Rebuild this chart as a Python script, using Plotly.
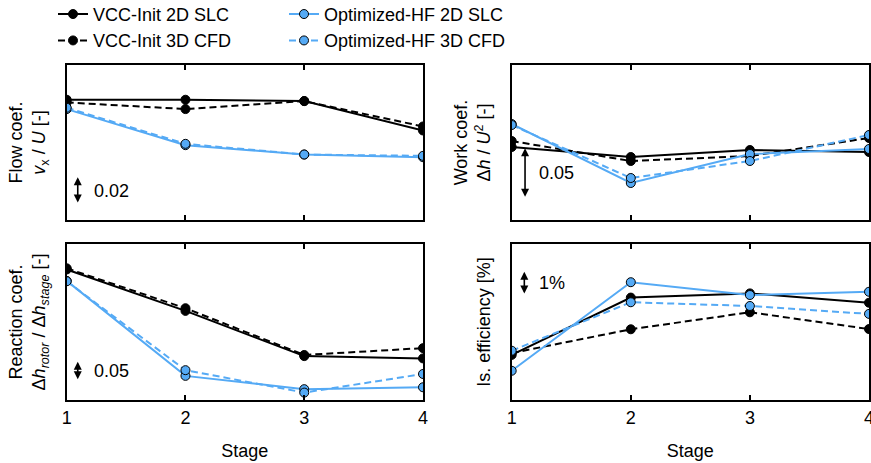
import plotly.graph_objects as go
from plotly.subplots import make_subplots

stages = [1, 2, 3, 4]
stage_ticks = ["1", "2", "3", "4"]

# Flow coefficient
flow_vcc_slc = [0.594, 0.594, 0.593, 0.571]
flow_vcc_cfd = [0.592, 0.587, 0.593, 0.574]
flow_opt_slc = [0.587, 0.560, 0.553, 0.551]
flow_opt_cfd = [0.588, 0.561, 0.553, 0.552]

# Work coefficient
work_vcc_slc = [0.418, 0.408, 0.415, 0.413]
work_vcc_cfd = [0.424, 0.404, 0.409, 0.427]
work_opt_slc = [0.441, 0.382, 0.411, 0.416]
work_opt_cfd = [0.440, 0.387, 0.404, 0.430]

# Reaction coefficient
reac_vcc_slc = [0.733, 0.624, 0.505, 0.499]
reac_vcc_cfd = [0.736, 0.631, 0.508, 0.526]
reac_opt_slc = [0.703, 0.453, 0.418, 0.423]
reac_opt_cfd = [0.702, 0.468, 0.409, 0.458]

# Isentropic efficiency [%]
eff_vcc_slc = [87.24, 89.70, 89.88, 89.48]
eff_vcc_cfd = [87.32, 88.34, 89.07, 88.35]
eff_opt_slc = [86.56, 90.36, 89.81, 89.95]
eff_opt_cfd = [87.42, 89.50, 89.34, 89.00]

series_names = ["VCC-Init 2D SLC", "VCC-Init 3D CFD", "Optimized-HF 2D SLC", "Optimized-HF 3D CFD"]

BLUE = "#55aaf5"
BLACK = "#000000"
FONT = "Liberation Sans, Arial, Helvetica, sans-serif"

styles = [
    dict(color=BLACK, dash="solid", mfill=BLACK, legend="legend"),
    dict(color=BLACK, dash="7px,4px", mfill=BLACK, legend="legend"),
    dict(color=BLUE, dash="solid", mfill=BLUE, legend="legend2"),
    dict(color=BLUE, dash="7px,4px", mfill=BLUE, legend="legend2"),
]

fig = make_subplots(rows=2, cols=2)

panels = [
    (1, 1, [flow_vcc_slc, flow_vcc_cfd, flow_opt_slc, flow_opt_cfd]),
    (1, 2, [work_vcc_slc, work_vcc_cfd, work_opt_slc, work_opt_cfd]),
    (2, 1, [reac_vcc_slc, reac_vcc_cfd, reac_opt_slc, reac_opt_cfd]),
    (2, 2, [eff_vcc_slc, eff_vcc_cfd, eff_opt_slc, eff_opt_cfd]),
]

for pi, (r, c, data) in enumerate(panels):
    for si, (vals, st) in enumerate(zip(data, styles)):
        fig.add_trace(
            go.Scatter(
                x=stages, y=vals, mode="lines+markers",
                name=series_names[si],
                line=dict(color=st["color"], width=2, dash=st["dash"]),
                marker=dict(size=9, color=st["mfill"], line=dict(color=BLACK, width=1)),
                showlegend=(pi == 0),
                legend=st["legend"],
            ),
            row=r, col=c,
        )

W, H = 871, 463
xd1 = [66.7 / W, 423 / W]
xd2 = [511.7 / W, 869 / W]
yd_top = [1 - 220 / H, 1 - 65 / H]
yd_bot = [1 - 400 / H, 1 - 244 / H]

axis_common = dict(showgrid=False, zeroline=False, showline=True, linecolor=BLACK,
                   linewidth=2, mirror=True, automargin=False)

for ax, dom, show in [("xaxis", xd1, False), ("xaxis2", xd2, False), ("xaxis3", xd1, True), ("xaxis4", xd2, True)]:
    fig.layout[ax].update(
        domain=dom, range=[1, 4], tickvals=stages, ticktext=stage_ticks,
        ticks="inside", ticklen=5, tickwidth=1.5, tickcolor=BLACK,
        showticklabels=show, tickfont=dict(size=18, color=BLACK, family=FONT),
        ticklabeloverflow="allow",
        **axis_common,
    )
    fig.layout[ax].mirror = "ticks"
    if show:
        fig.layout[ax].title = dict(text="Stage", font=dict(size=18, color=BLACK, family=FONT), standoff=18)

yinfo = [
    ("yaxis", yd_top, [0.504, 0.620], "Flow coef.<br><i>v</i><sub>x</sub> / <i>U</i> [-]"),
    ("yaxis2", yd_top, [0.345, 0.500], "Work coef.<br>Δ<i>h</i> / <i>U</i><sup>2</sup> [-]"),
    ("yaxis3", yd_bot, [0.3895, 0.800], "Reaction coef.<br>Δ<i>h</i><sub><i>rotor</i></sub> / Δ<i>h</i><sub><i>stage</i></sub> [-]"),
    ("yaxis4", yd_bot, [85.305, 92.0], "Is. efficiency [%]"),
]
for ax, dom, rng, title in yinfo:
    fig.layout[ax].update(
        domain=dom, range=rng, ticks="", showticklabels=False,
        title=dict(text=title, font=dict(size=18, color=BLACK, family=FONT), standoff=14),
        **axis_common,
    )

# scale bars
scale_bars = [
    ("x", "y", 1.093, 0.516, 0.536, 1.21, 0.526, "0.02"),
    ("x2", "y2", 1.112, 0.3667, 0.4167, 1.216, 0.392, "0.05"),
    ("x3", "y3", 1.093, 0.4403, 0.4903, 1.21, 0.4653, "0.05"),
    ("x4", "y4", 1.106, 89.811, 90.811, 1.216, 90.311, "1%"),
]
for xr, yr, xa, y0, y1, xt, yt, txt in scale_bars:
    fig.add_annotation(
        x=xa, y=y1, ax=xa, ay=y0, xref=xr, yref=yr, axref=xr, ayref=yr,
        text="", showarrow=True, arrowhead=2, arrowside="end+start",
        arrowsize=1.0, arrowwidth=1.6, arrowcolor=BLACK, standoff=0, startstandoff=0,
    )
    fig.add_annotation(
        x=xt, y=yt, xref=xr, yref=yr, text=txt, showarrow=False,
        xanchor="left", yanchor="middle",
        font=dict(size=18, color=BLACK, family=FONT),
    )

legend_style = dict(orientation="v", yanchor="top", y=1.009, xanchor="left",
                    bgcolor="rgba(0,0,0,0)", font=dict(size=18, color=BLACK, family=FONT),
                    tracegroupgap=0, itemwidth=30)

fig.update_layout(
    width=W, height=H,
    margin=dict(l=0, r=0, t=0, b=0, autoexpand=False),
    paper_bgcolor="white", plot_bgcolor="white",
    font=dict(family=FONT, size=18, color=BLACK),
    legend=dict(x=53 / W, **legend_style),
    legend2=dict(x=284 / W, **legend_style),
)

fig.write_html(
    "out.html",
    config={"displayModeBar": False},
    post_script="document.body.style.margin='0px';document.body.style.padding='0px';",
)
